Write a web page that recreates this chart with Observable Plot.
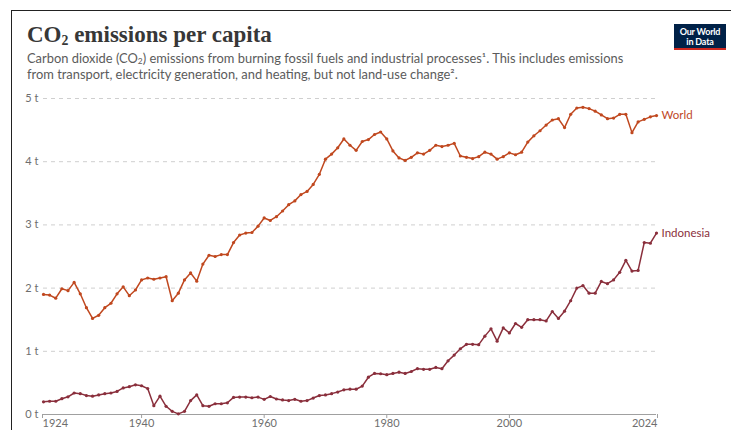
<!DOCTYPE html>
<html>
<head>
<meta charset="utf-8">
<script src="https://cdn.jsdelivr.net/npm/d3@7"></script>
<script src="https://cdn.jsdelivr.net/npm/@observablehq/plot@0.6"></script>
<style>
  html, body { margin: 0; padding: 0; background: #fff; }
  #wrap { position: relative; width: 731px; height: 430px; overflow: hidden; }
  #frame { position: absolute; left: 11px; top: 10px; right: -5px; bottom: -5px; border-top: 1.5px solid #222; border-left: 1.5px solid #222; pointer-events: none; z-index: 3; }
  #chart { position: absolute; left: 0; top: 0; z-index: 1; }
  #header { position: absolute; left: 27px; top: 22px; z-index: 2; width: 640px; }
  #title { font-family: "Liberation Serif", "DejaVu Serif", serif; font-weight: bold; font-size: 23px; color: #373737; line-height: 26px; margin: 0; }
  #title sub { font-size: 0.6em; vertical-align: -0.25em; line-height: 0; }
  .sub-line { font-family: Lato, "Noto Sans", sans-serif; font-size: 12.9px; color: #5b5b5b; line-height: 15.5px; white-space: nowrap; }
  #sub1 { margin-top: 3px; }
  .sub-line sub { font-size: 0.65em; vertical-align: -0.15em; line-height: 0; }
  #logo { position: absolute; left: 674px; top: 24px; width: 52px; background: #002147; border-bottom: 2.5px solid #ce261e; z-index: 2; color: #fff; font-family: Lato, "Noto Sans", sans-serif; font-weight: bold; font-size: 9px; line-height: 9.5px; text-align: center; padding-top: 3px; box-sizing: content-box; height: 21px; letter-spacing: -0.2px; }
</style>
</head>
<body>
<div id="wrap">
  <div id="frame"></div>
  <div id="chart"></div>
  <div id="header">
    <div id="title">CO<sub>2</sub> emissions per capita</div>
    <div class="sub-line" id="sub1">Carbon dioxide (CO<sub>2</sub>) emissions from burning fossil fuels and industrial processes¹. This includes emissions</div>
    <div class="sub-line" id="sub2">from transport, electricity generation, and heating, but not land-use change².</div>
  </div>
  <div id="logo">Our World<br>in Data</div>
</div>
<script>
const startYear = 1924;
const seriesNames = ["World", "Indonesia"];
const seriesColors = ["#c0481f", "#8a2f3c"];
const worldValues = [
  1.90,1.89,1.84,1.99,1.96,2.09,1.91,1.69,1.52,1.57,
  1.69,1.76,1.91,2.02,1.88,1.97,2.13,2.16,2.14,2.16,
  2.18,1.80,1.92,2.13,2.24,2.11,2.38,2.52,2.50,2.53,
  2.53,2.72,2.84,2.87,2.88,2.98,3.11,3.07,3.13,3.22,
  3.32,3.38,3.48,3.53,3.64,3.80,4.04,4.12,4.22,4.36,
  4.26,4.18,4.32,4.35,4.43,4.47,4.36,4.17,4.06,4.02,
  4.07,4.14,4.12,4.18,4.26,4.24,4.26,4.29,4.09,4.07,
  4.05,4.08,4.15,4.12,4.04,4.08,4.14,4.11,4.15,4.31,
  4.41,4.49,4.58,4.66,4.68,4.54,4.75,4.85,4.86,4.84,
  4.80,4.74,4.68,4.69,4.75,4.75,4.46,4.63,4.67,4.71,
  4.73
];
const indonesiaValues = [
  0.20,0.21,0.21,0.25,0.28,0.34,0.33,0.30,0.29,0.31,
  0.33,0.34,0.365,0.42,0.44,0.47,0.455,0.41,0.14,0.29,
  0.13,0.05,0.01,0.05,0.22,0.31,0.14,0.13,0.17,0.17,
  0.185,0.27,0.275,0.275,0.265,0.275,0.24,0.285,0.245,0.23,
  0.22,0.24,0.21,0.22,0.26,0.30,0.31,0.33,0.355,0.39,
  0.40,0.40,0.45,0.59,0.65,0.645,0.63,0.65,0.67,0.65,
  0.68,0.725,0.715,0.715,0.745,0.725,0.85,0.94,1.04,1.11,
  1.11,1.105,1.24,1.355,1.16,1.37,1.29,1.44,1.38,1.50,
  1.50,1.50,1.48,1.63,1.52,1.635,1.80,2.00,2.04,1.92,
  1.92,2.105,2.07,2.13,2.25,2.44,2.27,2.28,2.72,2.71,
  2.87
];
const yTicks = [0, 1, 2, 3, 4, 5];
const xTicksMiddle = [1940, 1960, 1980, 2000];
const xTickFirst = [1924];
const xTickLast = [2024];

const allValues = [worldValues, indonesiaValues];
const data = [];
seriesNames.forEach((name, si) => {
  allValues[si].forEach((v, i) => data.push({series: name, year: startYear + i, value: v}));
});
const lastPoints = seriesNames.map((name) => data.filter(d => d.series === name).slice(-1)[0]);

const axisCommon = {tickSize: 4, tickPadding: 1, fontSize: 11, tickFormat: d => String(d), stroke: "#a0a0a0", label: null};

const chart = Plot.plot({
  width: 731,
  height: 430,
  marginTop: 98,
  marginBottom: 16,
  marginLeft: 43,
  marginRight: 75,
  style: {fontFamily: "Lato, 'Noto Sans', sans-serif", background: "transparent", color: "#6e6e6e"},
  x: {domain: [1924, 2024], label: null},
  y: {domain: [0, 5], label: null},
  color: {domain: seriesNames, range: seriesColors},
  marks: [
    Plot.gridY(yTicks.filter(t => t > 0), {stroke: "#cfcfcf", strokeOpacity: 1, strokeDasharray: "4,4", strokeWidth: 1}),
    Plot.axisY(yTicks, {tickSize: 0, tickPadding: 5, fontSize: 11, tickFormat: d => d + " t", fill: "#6e6e6e", label: null}),
    Plot.ruleY([0], {stroke: "#a0a0a0", strokeWidth: 1}),
    Plot.axisX(xTicksMiddle, {...axisCommon, textAnchor: "middle", fill: "#6e6e6e"}),
    Plot.axisX(xTickFirst, {...axisCommon, textAnchor: "start", dx: -1, fill: "#6e6e6e"}),
    Plot.axisX(xTickLast, {...axisCommon, textAnchor: "end", dx: 1, fill: "#6e6e6e"}),
    Plot.line(data, {x: "year", y: "value", z: "series", stroke: "series", strokeWidth: 1.5}),
    Plot.dot(data, {x: "year", y: "value", fill: "series", r: 1.6, stroke: null}),
    Plot.text(lastPoints, {x: "year", y: "value", text: "series", fill: "series", textAnchor: "start", dx: 5, fontSize: 11.5})
  ]
});
document.getElementById("chart").appendChild(chart);
</script>
</body>
</html>
